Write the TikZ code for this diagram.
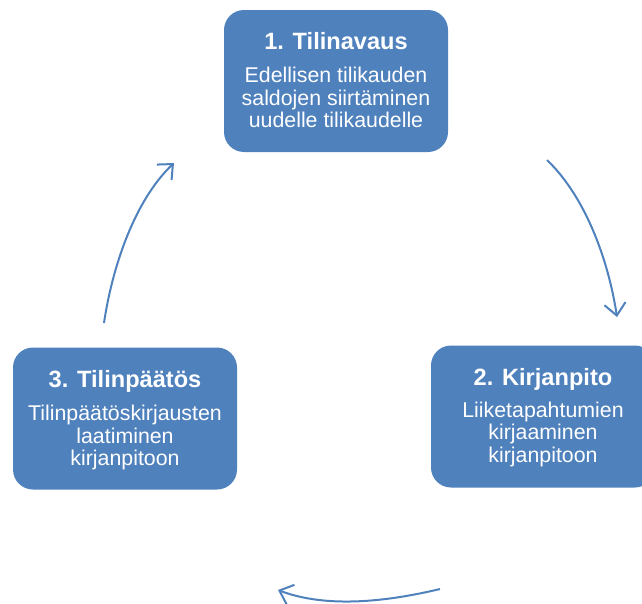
\documentclass[tikz,border=0pt]{standalone}
\usepackage{fontspec}
\setmainfont{Liberation Sans}
\usetikzlibrary{arrows.meta,calc}
\definecolor{boxblue}{HTML}{4F81BD}
\begin{document}
\begin{tikzpicture}[x=0.75pt,y=-0.75pt,
  stagebox/.style={fill=boxblue, rounded corners=15pt, minimum width=168pt, minimum height=106.5pt, inner sep=0pt},
  ttl/.style={text=white, font=\fontsize{17.7}{20}\selectfont\bfseries, anchor=base, inner sep=0pt},
  bodytxt/.style={text=white, font=\fontsize{16}{19}\selectfont, anchor=base, inner sep=0pt},
  arr/.style={draw=boxblue, line width=1.5pt, -{Straight Barb[length=9pt,width=16pt,line width=1.5pt]}}]
\clip (0,0) rectangle (642,603);
% boxes
\node[stagebox] (b1) at (336,81) {};
\node[stagebox] (b2) at (543,416.5) {};
\node[stagebox] (b3) at (125,418.5) {};
% texts box 1
\node[ttl] (t1) at ($(b1.north)+(0,40)$) {1. Tilinavaus};
\node[bodytxt] (t1a) at ($(b1.north)+(0,73)$) {Edellisen tilikauden};
\node[bodytxt] (t1b) at ($(b1.north)+(0,95.5)$) {saldojen siirtäminen};
\node[bodytxt] (t1c) at ($(b1.north)+(0,118)$) {uudelle tilikaudelle};
% texts box 2
\node[ttl] (t2) at ($(b2.north)+(0,40)$) {2. Kirjanpito};
\node[bodytxt] (t2a) at ($(b2.north)+(0,72)$) {Liiketapahtumien};
\node[bodytxt] (t2b) at ($(b2.north)+(0,94.5)$) {kirjaaminen};
\node[bodytxt] (t2c) at ($(b2.north)+(0,117)$) {kirjanpitoon};
% texts box 3
\node[ttl] (t3) at ($(b3.north)+(0,40)$) {3. Tilinpäätös};
\node[bodytxt] (t3a) at ($(b3.north)+(0,73.5)$) {Tilinpäätöskirjausten};
\node[bodytxt] (t3b) at ($(b3.north)+(0,96)$) {laatiminen};
\node[bodytxt] (t3c) at ($(b3.north)+(0,118.5)$) {kirjanpitoon};
% arrows
\coordinate (a1s) at (547,160);
\coordinate (a1e) at (617,317);
\coordinate (a2s) at (440,589);
\coordinate (a2e) at (278,590);
\coordinate (a3s) at (104,323);
\coordinate (a3e) at (174,163);
\draw[arr] (a1s) .. controls (586.6,198) and (608.75,262.5) .. (a1e);
\draw[arr] (a2s) .. controls (390,601) and (328,609) .. (a2e);
\draw[arr] (a3s) .. controls (112,268.5) and (134,201) .. (a3e);
\end{tikzpicture}
\end{document}
